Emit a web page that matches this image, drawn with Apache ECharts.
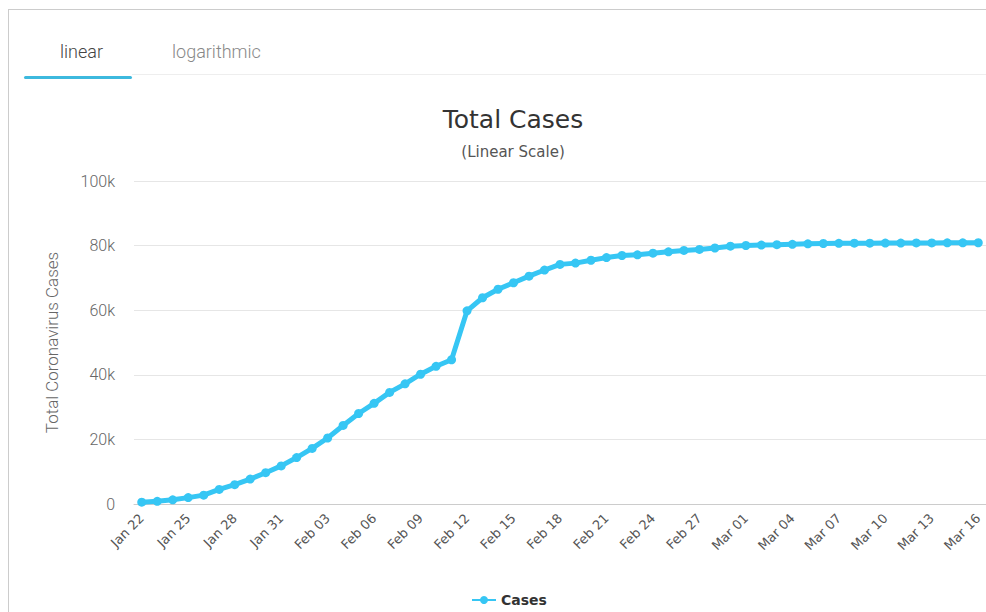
<!DOCTYPE html>
<html>
<head>
<meta charset="utf-8">
<script src="https://cdn.jsdelivr.net/npm/echarts@6/dist/echarts.min.js"></script>
<style>
html,body{margin:0;padding:0;background:#fff;}
#chart{width:986px;height:612px;}
</style>
</head>
<body>
<div id="chart"></div>
<script>
const categories = ["Jan 22","Jan 23","Jan 24","Jan 25","Jan 26","Jan 27","Jan 28","Jan 29","Jan 30","Jan 31",
"Feb 01","Feb 02","Feb 03","Feb 04","Feb 05","Feb 06","Feb 07","Feb 08","Feb 09","Feb 10",
"Feb 11","Feb 12","Feb 13","Feb 14","Feb 15","Feb 16","Feb 17","Feb 18","Feb 19","Feb 20",
"Feb 21","Feb 22","Feb 23","Feb 24","Feb 25","Feb 26","Feb 27","Feb 28","Feb 29",
"Mar 01","Mar 02","Mar 03","Mar 04","Mar 05","Mar 06","Mar 07","Mar 08","Mar 09","Mar 10",
"Mar 11","Mar 12","Mar 13","Mar 14","Mar 15","Mar 16"];
const cases = [571,830,1287,1975,2744,4515,5974,7711,9692,11791,
14380,17205,20438,24324,28018,31161,34546,37198,40171,42638,
44653,59804,63851,66492,68500,70548,72436,74185,74576,75465,
76288,76936,77150,77658,78064,78497,78824,79251,79824,
80026,80151,80270,80409,80552,80651,80695,80735,80754,80778,
80793,80813,80824,80844,80860,80881];
const yTicks = [0,20000,40000,60000,80000,100000];
const tabs = ["linear","logarithmic"];
const titleText = "Total Cases";
const subtitleText = "(Linear Scale)";
const seriesName = "Cases";
const yAxisTitle = "Total Coronavirus Cases";

const chart = echarts.init(document.getElementById('chart'), null, {renderer:'svg'});
const blue = '#36c6f4';
chart.setOption({
  animation:false,
  backgroundColor:'#fff',
  graphic:[
    {type:'line', shape:{x1:8.5,y1:9,x2:8.5,y2:612}, style:{stroke:'#cccccc',lineWidth:1}, silent:true},
    {type:'line', shape:{x1:8,y1:9.5,x2:986,y2:9.5}, style:{stroke:'#cccccc',lineWidth:1}, silent:true},
    {type:'line', shape:{x1:132,y1:74.5,x2:986,y2:74.5}, style:{stroke:'#eeeeee',lineWidth:1}, silent:true},
    {type:'rect', shape:{x:24,y:76,width:108,height:3,r:1.5}, style:{fill:'#3db9de'}, silent:true},
    {type:'text', x:60, y:51, style:{text:tabs[0], font:'300 18px Roboto', fill:'#444', verticalAlign:'middle'}},
    {type:'text', x:172, y:51, style:{text:tabs[1], font:'300 18px Roboto', fill:'#888', verticalAlign:'middle'}},
    {type:'text', x:513, y:119, style:{text:titleText, font:'25px "DejaVu Sans"', fill:'#333', align:'center', verticalAlign:'middle'}},
    {type:'text', x:513, y:152, style:{text:subtitleText, font:'15px "DejaVu Sans"', fill:'#555', align:'center', verticalAlign:'middle'}}
  ],
  grid:{left:134, right:-2, top:181, bottom:108, containLabel:false},
  legend:{
    data:[seriesName], left:466, top:588, itemWidth:24, itemHeight:10, itemGap:6,
    textStyle:{fontFamily:'DejaVu Sans', fontSize:14, fontWeight:'bold', color:'#333'}
  },
  xAxis:{
    type:'category', data:categories, boundaryGap:true,
    axisLine:{show:true, lineStyle:{color:'#cccccc'}},
    axisTick:{show:false},
    axisLabel:{interval:2, rotate:45, color:'#555', fontSize:13, fontFamily:'DejaVu Sans', margin:12}
  },
  yAxis:{
    type:'value', min:0, max:100000, interval:20000,
    name:yAxisTitle, nameLocation:'middle', nameGap:74, nameRotate:90,
    nameTextStyle:{color:'#666', fontSize:17, fontFamily:'Roboto', fontWeight:300},
    axisLine:{show:false}, axisTick:{show:false},
    splitLine:{lineStyle:{color:'#e6e6e6'}},
    axisLabel:{color:'#666', fontSize:16, fontFamily:'Roboto', fontWeight:300, margin:19,
      formatter:v=> v===0 ? '0' : (v/1000)+'k'}
  },
  series:[{
    name:seriesName, type:'line', data:cases,
    lineStyle:{width:5, color:blue}, itemStyle:{color:blue},
    symbol:'circle', symbolSize:9, showSymbol:true
  }]
});
</script>
</body>
</html>
